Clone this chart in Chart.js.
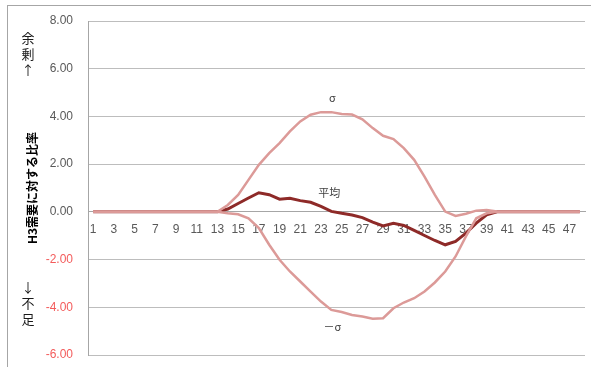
<!DOCTYPE html>
<html>
<head>
<meta charset="utf-8">
<script src="https://cdn.jsdelivr.net/npm/chart.js@4.4.1/dist/chart.umd.min.js"></script>
<style>
  html, body { margin: 0; padding: 0; background: #fff; }
  #wrap { position: absolute; left: 0; top: 0; width: 591px; height: 367px; }
  #frame { position: absolute; left: 7px; top: 5px; width: 700px; height: 500px;
           border-left: 1px solid #a6a6a6; border-top: 1px solid #a6a6a6; pointer-events: none; }
  .side { position: absolute; left: 20px; width: 16px; text-align: center;
          font: 13px/16px "Noto Sans CJK JP", sans-serif; color: #1a1a1a; }
  .side span { display: block; height: 16px; }
</style>
</head>
<body>
<div id="wrap"><canvas id="c" width="591" height="367"></canvas></div>
<div id="frame"></div>
<div class="side" id="sideTop" style="top:30px"></div>
<div class="side" id="sideBottom" style="top:279px"></div>
<script>
const categories = ['1','2','3','4','5','6','7','8','9','10','11','12','13','14','15','16','17','18','19','20','21','22','23','24','25','26','27','28','29','30','31','32','33','34','35','36','37','38','39','40','41','42','43','44','45','46','47','48'];

const meanValues = [0,0,0,0,0,0,0,0,0,0,0,0,0,
  0.12,0.35,0.58,0.80,0.72,0.53,0.57,0.47,0.40,0.23,0.02,-0.06,-0.13,-0.24,-0.43,-0.59,-0.48,-0.57,-0.78,-0.99,-1.20,-1.38,-1.24,-0.89,-0.47,-0.12,
  0,0,0,0,0,0,0,0,0];

const sigmaPlus = [0,0,0,0,0,0,0,0,0,0,0,0,0,
  0.29,0.71,1.34,1.97,2.46,2.88,3.37,3.79,4.07,4.18,4.18,4.10,4.08,3.88,3.51,3.19,3.05,2.67,2.18,1.48,0.71,0.01,-0.17,-0.08,0.05,0.08,
  0.02,0,0,0,0,0,0,0,0];

const sigmaMinus = [0,0,0,0,0,0,0,0,0,0,0,0,0,
  -0.06,-0.10,-0.27,-0.68,-1.38,-2.01,-2.50,-2.92,-3.34,-3.76,-4.11,-4.20,-4.32,-4.39,-4.48,-4.46,-4.04,-3.80,-3.62,-3.34,-2.96,-2.50,-1.87,-1.03,-0.27,-0.06,
  0,0,0,0,0,0,0,0,0];

const yTicks = [-6, -4, -2, 0, 2, 4, 6, 8];
const yTitle = 'H3需要に対する比率';
const sideTop = ['余','剰','↑'];
const sideBottom = ['↓','不','足'];

// annotation texts anchored to category index / value
const annoTexts = ['σ', '平均', '－σ'];
const annoCats = [23.1, 22.8, 23.1];
const annoVals = [4.78, 0.80, -4.82];

function fillSide(id, chars) {
  const el = document.getElementById(id);
  chars.forEach(ch => { const s = document.createElement('span'); s.textContent = ch; el.appendChild(s); });
}
fillSide('sideTop', sideTop);
fillSide('sideBottom', sideBottom);

const annoPlugin = {
  id: 'annoText',
  afterDraw(chart) {
    const ctx = chart.ctx;
    const xs = chart.scales.x, ys = chart.scales.y;
    ctx.save();
    ctx.textAlign = 'center';
    ctx.textBaseline = 'middle';
    ctx.fillStyle = '#404040';
    ctx.font = '11px "Noto Sans CJK JP", sans-serif';
    annoTexts.forEach((t, i) => {
      ctx.fillText(t, xs.getPixelForValue(annoCats[i]), ys.getPixelForValue(annoVals[i]));
    });
    ctx.restore();
  }
};

new Chart(document.getElementById('c'), {
  type: 'line',
  data: {
    labels: categories,
    datasets: [
      { label: 'σ', data: sigmaPlus, borderColor: '#dc9a98', borderWidth: 2.5, pointRadius: 0, tension: 0 },
      { label: '－σ', data: sigmaMinus, borderColor: '#dc9a98', borderWidth: 2.5, pointRadius: 0, tension: 0 },
      { label: '平均', data: meanValues, borderColor: '#8e2a28', borderWidth: 3, pointRadius: 0, tension: 0 }
    ]
  },
  options: {
    responsive: false,
    animation: false,
    events: [],
    layout: { padding: { left: 20, top: 21, right: 6, bottom: 12 } },
    plugins: { legend: { display: false }, tooltip: { enabled: false } },
    scales: {
      x: {
        type: 'category',
        position: { y: 0 },
        offset: true,
        grid: { display: false, drawTicks: false },
        border: { display: true, color: '#a6a6a6', width: 1 },
        ticks: {
          autoSkip: false, maxRotation: 0, minRotation: 0, padding: 11,
          color: '#595959',
          font: { family: '"Liberation Sans", Arial, sans-serif', size: 12 },
          callback: (v, i) => (i % 2 === 0 ? categories[i] : '')
        }
      },
      y: {
        min: -6, max: 8,
        afterBuildTicks: (scale) => { scale.ticks = yTicks.map(v => ({ value: v })); },
        afterFit: (scale) => { scale.width = 68; },
        grid: { color: '#bdbdbd', lineWidth: 1, drawTicks: true, tickLength: 15, tickColor: 'rgba(0,0,0,0)' },
        border: { display: true, color: '#a6a6a6', width: 1 },
        ticks: {
          padding: 0,
          color: (c) => (c.tick && c.tick.value < 0 ? '#f35b5b' : '#595959'),
          font: { family: '"Liberation Sans", Arial, sans-serif', size: 12 },
          callback: (v) => Number(v).toFixed(2)
        },
        title: {
          display: true, text: yTitle, color: '#000',
          padding: { top: 5, bottom: 0 },
          font: { family: '"Noto Sans CJK JP", sans-serif', size: 12, weight: 'bold' }
        }
      }
    }
  },
  plugins: [annoPlugin]
});
</script>
</body>
</html>
